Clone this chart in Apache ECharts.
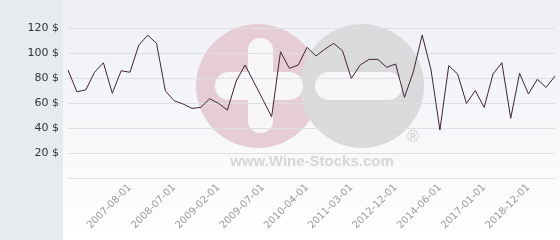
<!DOCTYPE html>
<html>
<head>
<meta charset="utf-8">
<style>
html,body{margin:0;padding:0;background:#fff;}
#chart{width:560px;height:240px;}
</style>
<script src="https://cdn.jsdelivr.net/npm/echarts@6/dist/echarts.min.js"></script>
</head>
<body>
<div id="chart"></div>
<script>
var dates = [
  '2006-06-01','2006-08-01','2006-10-01','2006-12-01','2007-02-01','2007-04-01','2007-06-01',
  '2007-08-01','2007-10-01','2007-12-01','2008-02-01','2008-04-01',
  '2008-07-01','2008-08-01','2008-09-01','2008-11-01','2008-12-01',
  '2009-02-01','2009-03-01','2009-04-01','2009-05-01','2009-06-01',
  '2009-07-01','2009-09-01','2009-11-01','2010-01-01','2010-02-01',
  '2010-04-01','2010-06-01','2010-08-01','2010-10-01','2011-01-01',
  '2011-03-01','2011-07-01','2011-11-01','2012-03-01','2012-08-01',
  '2012-12-01','2013-03-01','2013-06-01','2013-10-01','2014-02-01',
  '2014-06-01','2014-12-01','2015-06-01','2015-12-01','2016-06-01',
  '2017-01-01','2017-06-01','2017-11-01','2018-03-01','2018-08-01',
  '2018-12-01','2019-03-01','2019-06-01','2019-09-01'
];
var prices = [
  86.4, 69, 70.4, 84.6, 92.2, 67.8, 85.8,
  84.6, 106.4, 114.2, 107.8, 69.6,
  61.8, 59.2, 55.7, 56.5, 63.4,
  59.7, 54.4, 77.6, 90.4, 76.6,
  62.8, 49, 101, 87.7, 90.4,
  104.6, 97.6, 103, 107.7, 101.8,
  79.7, 90.4, 94.9, 94.9, 88.5,
  91.2, 64.5, 85, 114.4, 86.4,
  38.4, 89.9, 83.2, 59.7, 69.9,
  56.5, 83.2, 92.2, 47.8, 83.7,
  67.2, 79, 72.5, 81.6
];
var shownLabels = ['2007-08-01','2008-07-01','2009-02-01','2009-07-01','2010-04-01',
  '2011-03-01','2012-12-01','2014-06-01','2017-01-01','2018-12-01'];
var yTicks = [0, 20, 40, 60, 80, 100, 120];

var chart = echarts.init(document.getElementById('chart'), null, {renderer: 'canvas'});
chart.setOption({
  animation: false,
  backgroundColor: '#ffffff',
  graphic: [
    {type: 'rect', z: -30, shape: {x: 63, y: 0, width: 497, height: 240},
      style: {fill: new echarts.graphic.LinearGradient(0, 0, 0, 1, [
        {offset: 0, color: '#eeeff5'}, {offset: 1, color: '#ffffff'}])}},
    {type: 'rect', z: -30, shape: {x: 0, y: 0, width: 63, height: 240}, style: {fill: '#e7ebee'}},
    {type: 'circle', z: -20, shape: {cx: 258, cy: 86, r: 62}, style: {fill: '#e6cdd5'}},
    {type: 'circle', z: -19, shape: {cx: 362, cy: 86, r: 62}, style: {fill: '#dadadc'}},
    {type: 'rect', z: -17, shape: {x: 215, y: 72, width: 88, height: 28, r: 14}, style: {fill: '#f7f7fa'}},
    {type: 'rect', z: -17, shape: {x: 248, y: 38, width: 25, height: 95, r: 12}, style: {fill: '#f7f7fa'}},
    {type: 'rect', z: -18, shape: {x: 315, y: 72, width: 87, height: 28, r: 14}, style: {fill: '#f7f7fa'}},
    {type: 'text', z: -18, style: {x: 413, y: 138, text: '®', fill: '#d4d4d6', font: 'bold 16px "Liberation Sans"', align: 'center', verticalAlign: 'middle'}},
    {type: 'text', z: -18, style: {x: 312, y: 162, text: 'www.Wine-Stocks.com', fill: '#d6d6d8', font: 'bold 15px "Liberation Sans"', align: 'center', verticalAlign: 'middle'}}
  ],
  grid: {left: 68, right: 5, top: 28, bottom: 62, containLabel: false},
  xAxis: {
    type: 'category',
    data: dates,
    boundaryGap: false,
    axisLine: {show: false},
    axisTick: {show: false},
    splitLine: {show: false},
    axisLabel: {
      rotate: 45,
      margin: 8,
      color: '#9a9a9a',
      fontFamily: 'DejaVu Sans',
      fontSize: 10,
      interval: function (i, v) { return shownLabels.indexOf(v) >= 0; }
    }
  },
  yAxis: {
    type: 'value',
    min: yTicks[0],
    max: yTicks[yTicks.length - 1],
    interval: 20,
    axisLine: {show: false},
    axisTick: {show: false},
    splitLine: {show: true, lineStyle: {color: '#dfdfe3', width: 1}},
    axisLabel: {
      margin: 9,
      color: '#333',
      fontFamily: 'DejaVu Sans',
      fontSize: 11,
      formatter: function (v) { return v === 0 ? '' : v + ' $'; }
    }
  },
  series: [{
    type: 'line',
    data: prices,
    symbol: 'none',
    lineStyle: {color: '#3d2434', width: 1}
  }]
});
</script>
</body>
</html>
